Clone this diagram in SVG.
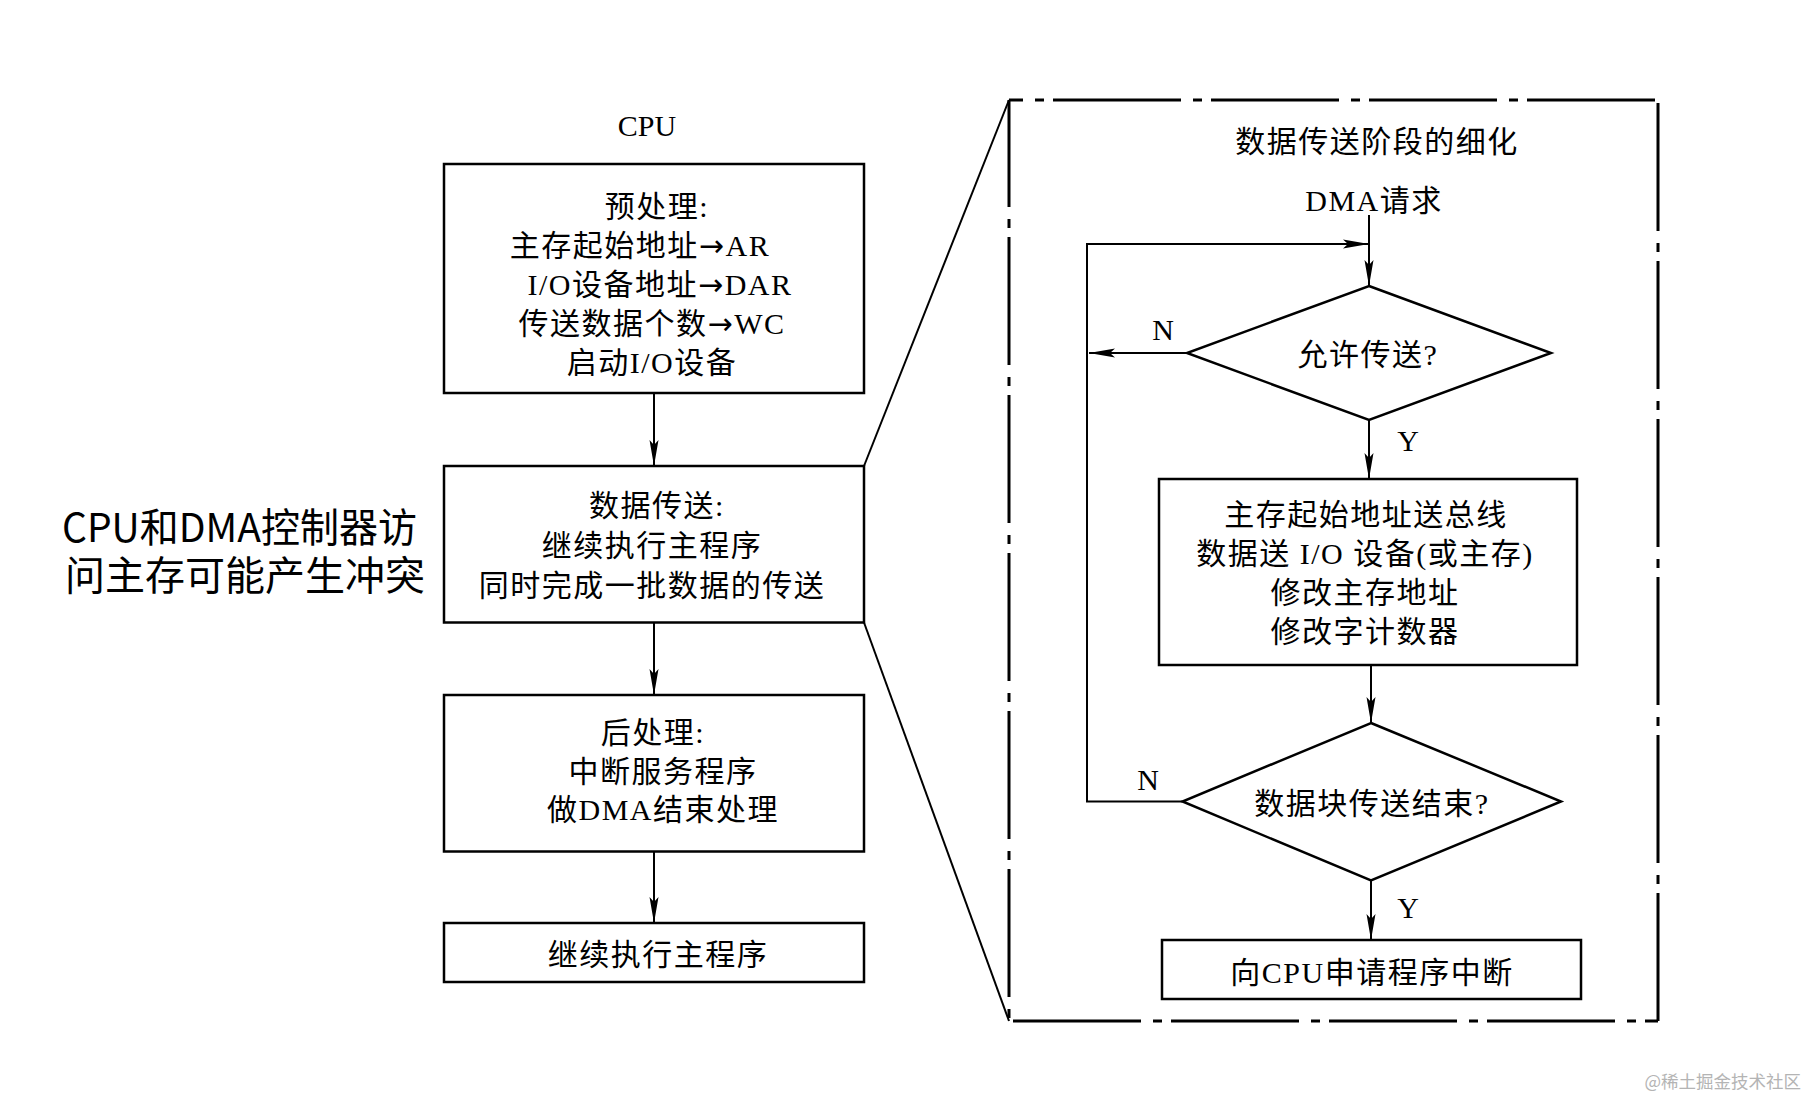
<svg xmlns="http://www.w3.org/2000/svg" width="1808" height="1098" viewBox="0 0 1808 1098">
<style>
  .t { font-family: "Liberation Serif", "Noto Sans CJK SC", serif; font-size: 30px; letter-spacing: 1.5px; fill: #000; text-anchor: middle; }
  .ar { font-family: "DejaVu Sans", sans-serif; font-weight: normal; }
  .lbl { font-family: "Liberation Serif", "Noto Sans CJK SC", serif; font-size: 30px; fill: #000; text-anchor: middle; }
  .note { font-family: "Noto Sans CJK SC", sans-serif; font-size: 40px; fill: #000; }
  .box { fill: none; stroke: #000; stroke-width: 2.5; }
  .ln { fill: none; stroke: #000; stroke-width: 2; }
  .arr { fill: none; stroke: #000; stroke-width: 2; marker-end: url(#ah); }
  .frame { fill: none; stroke: #000; stroke-width: 3; stroke-dasharray: 128 12 9 9; }
  .wm { font-family: "Noto Sans CJK SC", sans-serif; font-size: 17.5px; fill: #b4b4b4; text-anchor: end; }
</style>
<defs>
  <marker id="ah" markerUnits="userSpaceOnUse" markerWidth="30" markerHeight="12" refX="0" refY="0" orient="auto" overflow="visible">
    <path d="M0,0 L-26,-4.5 L-21,0 L-26,4.5 Z" fill="#000"/>
  </marker>
</defs>
<rect width="1808" height="1098" fill="#fff"/>

<text class="lbl" x="647" y="136">CPU</text>

<g id="pre">
  <rect class="box" x="444" y="164" width="420" height="229"/>
  <text class="t" x="657" y="217">预处理:</text>
  <text class="t" x="640" y="256">主存起始地址<tspan class="ar">→</tspan>AR</text>
  <text class="t" x="660" y="295">I/O设备地址<tspan class="ar">→</tspan>DAR</text>
  <text class="t" x="652" y="334">传送数据个数<tspan class="ar">→</tspan>WC</text>
  <text class="t" x="652" y="373">启动I/O设备</text>
</g>

<g id="transfer">
  <rect class="box" x="444" y="466" width="420" height="156.5"/>
  <text class="t" x="657" y="516">数据传送:</text>
  <text class="t" x="652" y="556">继续执行主程序</text>
  <text class="t" x="652" y="596">同时完成一批数据的传送</text>
</g>

<g id="post">
  <rect class="box" x="444" y="695" width="420" height="156.5"/>
  <text class="t" x="653" y="743">后处理:</text>
  <text class="t" x="663" y="782">中断服务程序</text>
  <text class="t" x="663" y="820">做DMA结束处理</text>
</g>

<g id="resume">
  <rect class="box" x="444" y="923" width="420" height="59"/>
  <text class="t" x="658" y="965">继续执行主程序</text>
</g>

<g id="note">
  <text class="note" x="62" y="542" textLength="355" lengthAdjust="spacingAndGlyphs">CPU和DMA控制器访</text>
  <text class="note" x="65" y="590">问主存可能产生冲突</text>
</g>

<g id="detail-frame">
  <line class="frame" x1="1009" y1="100" x2="1658" y2="100" stroke-dashoffset="114"/>
  <line class="frame" x1="1009" y1="100" x2="1009" y2="1021" stroke-dashoffset="21"/>
  <line class="frame" x1="1009" y1="1021" x2="1658" y2="1021" stroke-dashoffset="-4"/>
  <line class="frame" x1="1658" y1="103" x2="1658" y2="1021" stroke-dashoffset="0"/>
  <text class="t" x="1377" y="152">数据传送阶段的细化</text>
  <text class="t" x="1374" y="211">DMA请求</text>
</g>

<g id="allow">
  <polygon class="box" points="1369,286 1551,353 1369,420 1187,353"/>
  <text class="t" x="1368" y="365">允许传送?</text>
</g>

<g id="ops">
  <rect class="box" x="1159" y="479" width="418" height="186"/>
  <text class="t" x="1366" y="525">主存起始地址送总线</text>
  <text class="t" x="1365" y="564">数据送 I/O 设备(或主存)</text>
  <text class="t" x="1365" y="603">修改主存地址</text>
  <text class="t" x="1365" y="642">修改字计数器</text>
</g>

<g id="done">
  <polygon class="box" points="1371,723 1561,801.5 1371,880.5 1182.5,801.5"/>
  <text class="t" x="1372" y="814">数据块传送结束?</text>
</g>

<g id="irq">
  <rect class="box" x="1162" y="940" width="419" height="59"/>
  <text class="t" x="1372" y="983">向CPU申请程序中断</text>
</g>

<g id="connectors">
  <line class="arr" x1="654" y1="393" x2="654" y2="466"/>
  <line class="arr" x1="654" y1="622.5" x2="654" y2="695"/>
  <line class="arr" x1="654" y1="851.5" x2="654" y2="923"/>
  <line class="ln" x1="864" y1="466" x2="1009" y2="100"/>
  <line class="ln" x1="864" y1="622.5" x2="1009" y2="1021"/>
  <line class="arr" x1="1369" y1="215" x2="1369" y2="286"/>
  <polyline class="arr" points="1182.5,801.5 1087,801.5 1087,244 1369,244"/>
  <line class="arr" x1="1187" y1="353" x2="1089" y2="353"/>
  <line class="arr" x1="1369" y1="420" x2="1369" y2="479"/>
  <line class="arr" x1="1371" y1="665" x2="1371" y2="723"/>
  <line class="arr" x1="1371" y1="880.5" x2="1371" y2="940"/>
  <text class="lbl" x="1163" y="340">N</text>
  <text class="lbl" x="1408" y="451">Y</text>
  <text class="lbl" x="1148" y="790">N</text>
  <text class="lbl" x="1408" y="918">Y</text>
</g>

<text class="wm" x="1801" y="1088">@稀土掘金技术社区</text>
</svg>
